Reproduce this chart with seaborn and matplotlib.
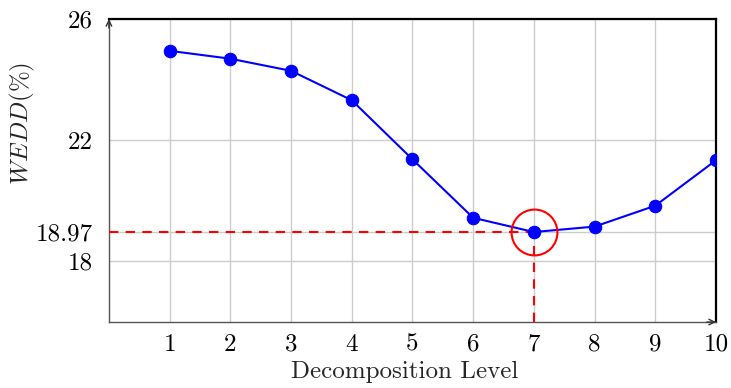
import matplotlib
matplotlib.use("Agg")
import matplotlib.pyplot as plt
import seaborn as sns
import pandas as pd

# Error rate per decomposition level
levels = [1, 2, 3, 4, 5, 6, 7, 8, 9, 10]
wedd = [24.95, 24.69, 24.29, 23.32, 21.37, 19.44, 18.97, 19.15, 19.84, 21.34]
best_level = 7
best_value = 18.97
y_ticks = [18, 18.97, 22, 26]
y_tick_labels = ["18", "18.97", "22", "26"]

sns.set_style("whitegrid")
plt.rcParams["font.family"] = ["cmr10", "DejaVu Serif"]
plt.rcParams["mathtext.fontset"] = "cm"
plt.rcParams["axes.formatter.use_mathtext"] = True

df = pd.DataFrame({"level": levels, "wedd": wedd})

fig = plt.figure(figsize=(7.31, 3.88), dpi=100)
ax = fig.add_axes([0.149, 0.170, 0.8305, 0.781])

ax.set_xlim(0, 10)
ax.set_ylim(16, 26)
ax.set_xticks(levels)
ax.set_xticklabels([str(v) for v in levels])
ax.set_yticks(y_ticks)
ax.set_yticklabels(y_tick_labels)
ax.grid(True, color="#cccccc", linewidth=1.0)
ax.set_axisbelow(True)

# Marker for the optimum, with guide lines down to the axes
ax.plot([0, best_level], [best_value, best_value], color="red",
        linestyle=(0, (4.5, 3.5)), linewidth=1.5, zorder=3)
ax.plot([best_level, best_level], [16, best_value], color="red",
        linestyle=(0, (4.5, 3.5)), linewidth=1.5, zorder=3)

sns.lineplot(data=df, x="level", y="wedd", ax=ax, color="blue",
             marker="o", markersize=9, markeredgecolor="blue",
             linewidth=1.5, zorder=4)

ax.plot([best_level], [best_value], marker="o", markersize=33,
        markerfacecolor="none", markeredgecolor="red", markeredgewidth=1.5,
        linestyle="none", zorder=5)

# Axis frame: arrowed left/bottom, solid top/right
for side in ("left", "bottom"):
    ax.spines[side].set_color("#555555")
    ax.spines[side].set_linewidth(1.0)
for side in ("top", "right"):
    ax.spines[side].set_color("black")
    ax.spines[side].set_linewidth(1.6)
    ax.spines[side].set_visible(True)

ax.annotate("", xy=(1, 0), xytext=(0.985, 0), xycoords="axes fraction",
            arrowprops=dict(arrowstyle="->", color="#333333", lw=1.0,
                            shrinkA=0, shrinkB=0), zorder=6)
ax.annotate("", xy=(0, 1), xytext=(0, 0.97), xycoords="axes fraction",
            arrowprops=dict(arrowstyle="->", color="#333333", lw=1.0,
                            shrinkA=0, shrinkB=0), zorder=6)

ax.tick_params(axis="both", direction="inout", length=7, width=0.8,
               color="#555555", labelsize=18, labelcolor="black")
ax.tick_params(axis="y", pad=8)
ax.tick_params(axis="x", pad=5)

ax.set_xlabel("Decomposition Level", fontsize=18)
ax.xaxis.set_label_coords(0.487, -0.128)
ax.set_ylabel(r"$WEDD(\%)$", fontsize=18)
ax.yaxis.set_label_coords(-0.119, 0.657)

fig.savefig("out.png", dpi=100)
